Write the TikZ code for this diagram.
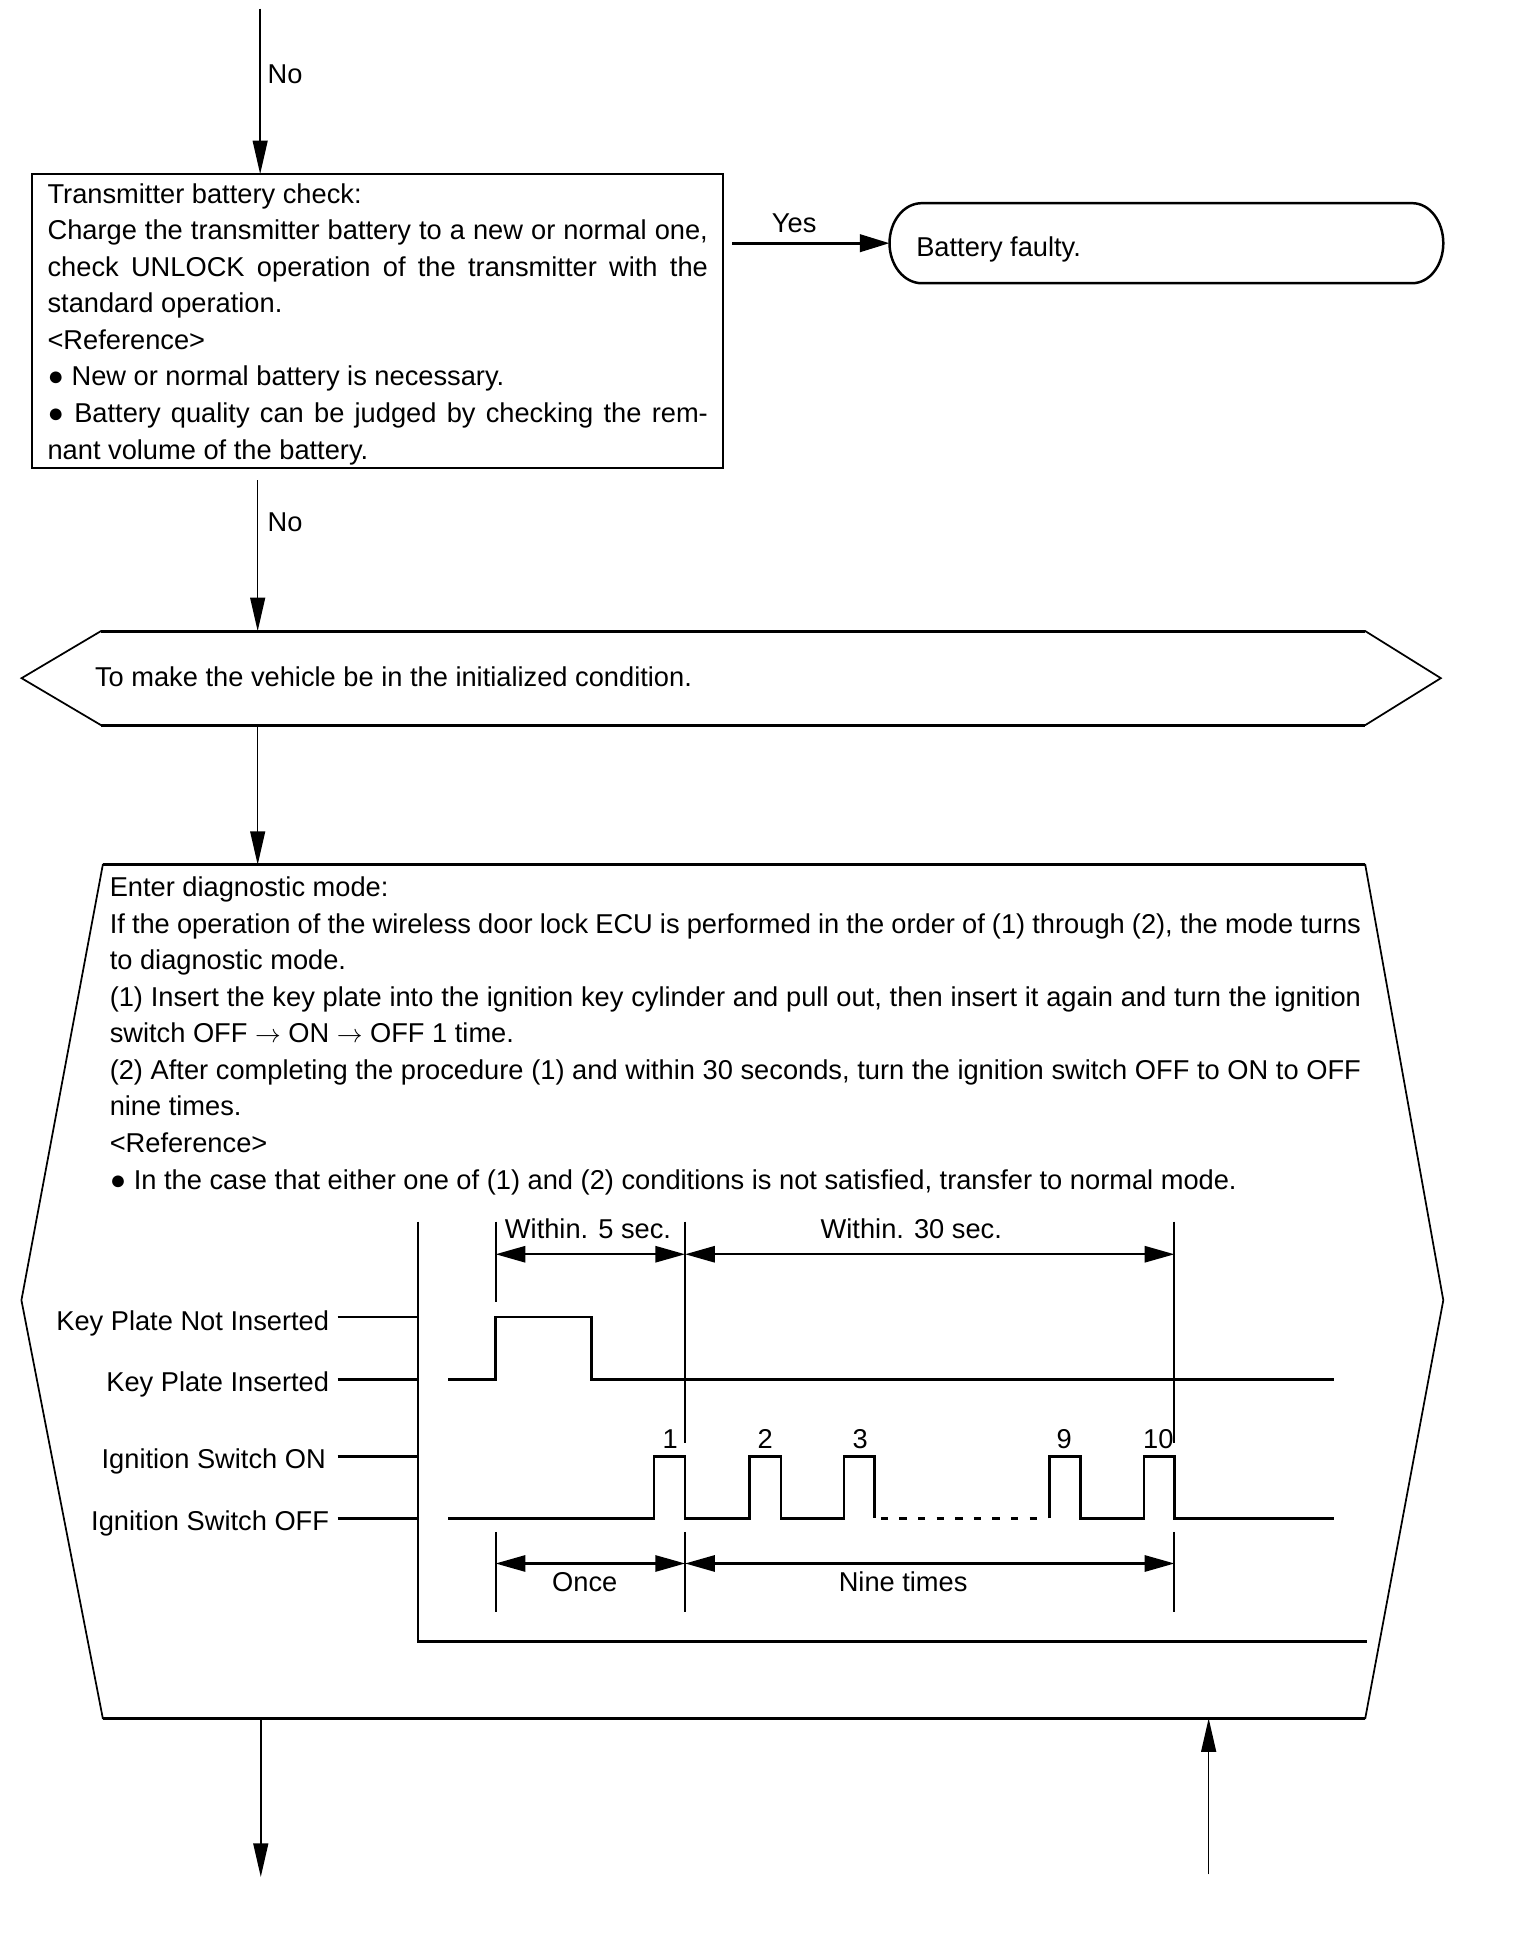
\documentclass[tikz,border=0pt]{standalone}
\usepackage{fontspec}
\setmainfont{Liberation Sans}
\usetikzlibrary{arrows.meta}
\newcommand\tlines[1]{\vtop{\baselineskip=29.5pt\lineskiplimit=-20pt\halign{##\hfil\cr#1\crcr}}}
\newcommand\rarr{$\rightarrow$}
\begin{document}
\begin{tikzpicture}[x=1pt,y=-1pt,
  every node/.style={font=\fontsize{22}{29.5}\selectfont, inner sep=0pt, outer sep=0pt},
  flow/.style={-{Triangle[length=27pt,width=12pt]}, line width=1.3pt},
  yesflow/.style={-{Triangle[length=24pt,width=14pt]}, line width=2.5pt},
  dimarrow/.style={{Triangle[length=24pt,width=13pt]}-{Triangle[length=24pt,width=13pt]}, line width=2pt},
  sig/.style={line width=2pt},
  dimline/.style={line width=1.6pt},
  outline/.style={line width=2pt, line join=miter},
  side/.style={line width=1.4pt}]
\useasboundingbox (0,0) rectangle (1240,1574);

% ---------- box 1 ----------
\node[draw, line width=2pt, anchor=north west, minimum width=557.8pt, minimum height=237.1pt] (box1) at (25.7,140.5) {};
\node[anchor=base west] (box1txt) at (38.4,164) {\tlines{%
Transmitter battery check:\cr
\makebox[533pt][s]{Charge the transmitter battery to a new or normal one,}\cr
\makebox[533pt][s]{check UNLOCK operation of the transmitter with the}\cr
standard operation.\cr
<Reference>\cr
● New or normal battery is necessary.\cr
\makebox[533pt][s]{● Battery quality can be judged by checking the rem-}\cr
nant volume of the battery.}};

% top arrow
\coordinate (top1) at (210,7);
\draw[flow] (top1) -- (top1 |- box1.north);
\node[anchor=base west] (no1) at (216,67) {No};

% ---------- terminal ----------
\node[minimum width=447pt, minimum height=64.6pt] (bf) at (941.5,196.3) {};
\draw[outline] (744,164) -- (1140,164)
  .. controls (1153.8,164) and (1165,178.5) .. (1165,196.3)
  .. controls (1165,214.1) and (1153.8,228.6) .. (1140,228.6)
  -- (744,228.6)
  .. controls (729.6,228.6) and (718,214.1) .. (718,196.3)
  .. controls (718,178.5) and (729.6,164) .. (744,164) -- cycle;
\node[anchor=base west] (bftxt) at (739.6,207) {Battery faulty.};
\coordinate (yesA) at (591,196.3);
\draw[yesflow] (yesA) -- (bf.west);
\node[anchor=base] (yes) at (641,188) {Yes};

% ---------- hexagon ----------
\node[minimum width=1145.6pt, minimum height=75.9pt] (hex) at (590.2,547.35) {};
\draw[side] (81.5,509.4) -- (1102,509.4) -- (1163,547.4) -- (1102,585.3) -- (81.5,585.3) -- (17.4,547.4) -- cycle;
\draw[line width=2.4pt] (81.5,509.4) -- (1102,509.4) (81.5,585.3) -- (1102,585.3);
\node[anchor=base west] (hextxt) at (76.7,554) {To make the vehicle be in the initialized condition.};

\coordinate (a2s) at (208,387.5);
\draw[flow] (a2s) -- (a2s |- hex.north);
\node[anchor=base west] (no2) at (216,429) {No};

% ---------- diagnostic shape ----------
\node[minimum width=1147.7pt, minimum height=689pt] (diag) at (591.2,1042.5) {};
\draw[side] (83,698) -- (1102,698) -- (1165,1049.5) -- (1102,1387) -- (83,1387) -- (17.3,1049.5) -- cycle;
\draw[line width=2.4pt] (83,698) -- (1102,698) (83,1387) -- (1102,1387);

\coordinate (a3) at (208,0);
\draw[flow] (a3 |- hex.south) -- (a3 |- diag.north);

\node[anchor=base west] (diagtxt) at (88.6,723.8) {\tlines{%
Enter diagnostic mode:\cr
\makebox[1010pt][s]{If the operation of the wireless door lock ECU is performed in the order of (1) through (2), the mode turns}\cr
to diagnostic mode.\cr
\makebox[1010pt][s]{(1) Insert the key plate into the ignition key cylinder and pull out, then insert it again and turn the ignition}\cr
switch OFF \rarr{} ON \rarr{} OFF 1 time.\cr
\makebox[1010pt][s]{(2) After completing the procedure (1) and within 30 seconds, turn the ignition switch OFF to ON to OFF}\cr
nine times.\cr
<Reference>\cr
● In the case that either one of (1) and (2) conditions is not satisfied, transfer to normal mode.}};

% ---------- timing chart ----------
\draw[sig] (337.6,986) -- (337.6,1325) -- (1103,1325);
\node[anchor=base east] (lkpn) at (265.6,1073.6) {Key Plate Not Inserted};
\node[anchor=base east] (lkpi) at (265.6,1123.4) {Key Plate Inserted};
\node[anchor=base east] (lison) at (263,1185) {Ignition Switch ON};
\node[anchor=base east] (lisoff) at (265.6,1235) {Ignition Switch OFF};
\draw[sig] (272.5,1063) -- (337.6,1063);
\draw[sig] (272.5,1113.3) -- (337.6,1113.3);
\draw[sig] (272.5,1175.5) -- (337.6,1175.5);
\draw[sig] (272.5,1225.6) -- (337.6,1225.6);

\draw[sig] (362,1113.3) -- (400,1113.3) -- (400,1063) -- (477.6,1063) -- (477.6,1113.3) -- (1077,1113.3);
\draw[sig] (362,1225.6) -- (528,1225.6) -- (528,1175.5) -- (553,1175.5) -- (553,1225.6)
  -- (605,1225.6) -- (605,1175.5) -- (630.5,1175.5) -- (630.5,1225.6)
  -- (681.4,1225.6) -- (681.4,1175.5) -- (705.8,1175.5) -- (705.8,1225.6);
\draw[sig, dash pattern=on 6pt off 9pt] (711,1225.6) -- (845,1225.6);
\draw[sig] (847,1225.6) -- (847,1175.5) -- (872,1175.5) -- (872,1225.6)
  -- (923.6,1225.6) -- (923.6,1175.5) -- (948,1175.5) -- (948,1225.6) -- (1077,1225.6);

\node[anchor=base] (p1) at (541,1169) {1};
\node[anchor=base] (p2) at (617.6,1169) {2};
\node[anchor=base] (p3) at (694.3,1169) {3};
\node[anchor=base] (p9) at (859,1169) {9};
\node[anchor=base] (p10) at (935,1169) {10};

\draw[dimline] (400,986) -- (400,1051);
\draw[dimline] (553,986) -- (553,1165);
\draw[dimline] (948,986) -- (948,1165);
\draw[dimline] (400,1236.5) -- (400,1301);
\draw[dimline] (553,1236.5) -- (553,1301);
\draw[dimline] (948,1236.5) -- (948,1301);

\coordinate (t1) at (400,1012.4);
\coordinate (t2) at (553,1012.4);
\coordinate (t3) at (948,1012.4);
\draw[dimarrow] (t1) -- (t2);
\draw[dimarrow] (t2) -- (t3);
\node[anchor=base west] (w5) at (407.6,1000) {Within. 5 sec.};
\node[anchor=base] (w30) at (735.6,1000) {Within. 30 sec.};

\coordinate (b1) at (400,1262);
\coordinate (b2) at (553,1262);
\coordinate (b3) at (948,1262);
\draw[dimarrow] (b1) -- (b2);
\draw[dimarrow] (b2) -- (b3);
\node[anchor=base] (once) at (472,1285) {Once};
\node[anchor=base] (nine) at (729,1285) {Nine times};

% ---------- exit arrows ----------
\coordinate (outL) at (210.5,1515);
\draw[flow] (outL |- diag.south) -- (outL);
\coordinate (inR) at (975.6,1513);
\draw[flow] (inR) -- (inR |- diag.south);
\end{tikzpicture}
\end{document}
